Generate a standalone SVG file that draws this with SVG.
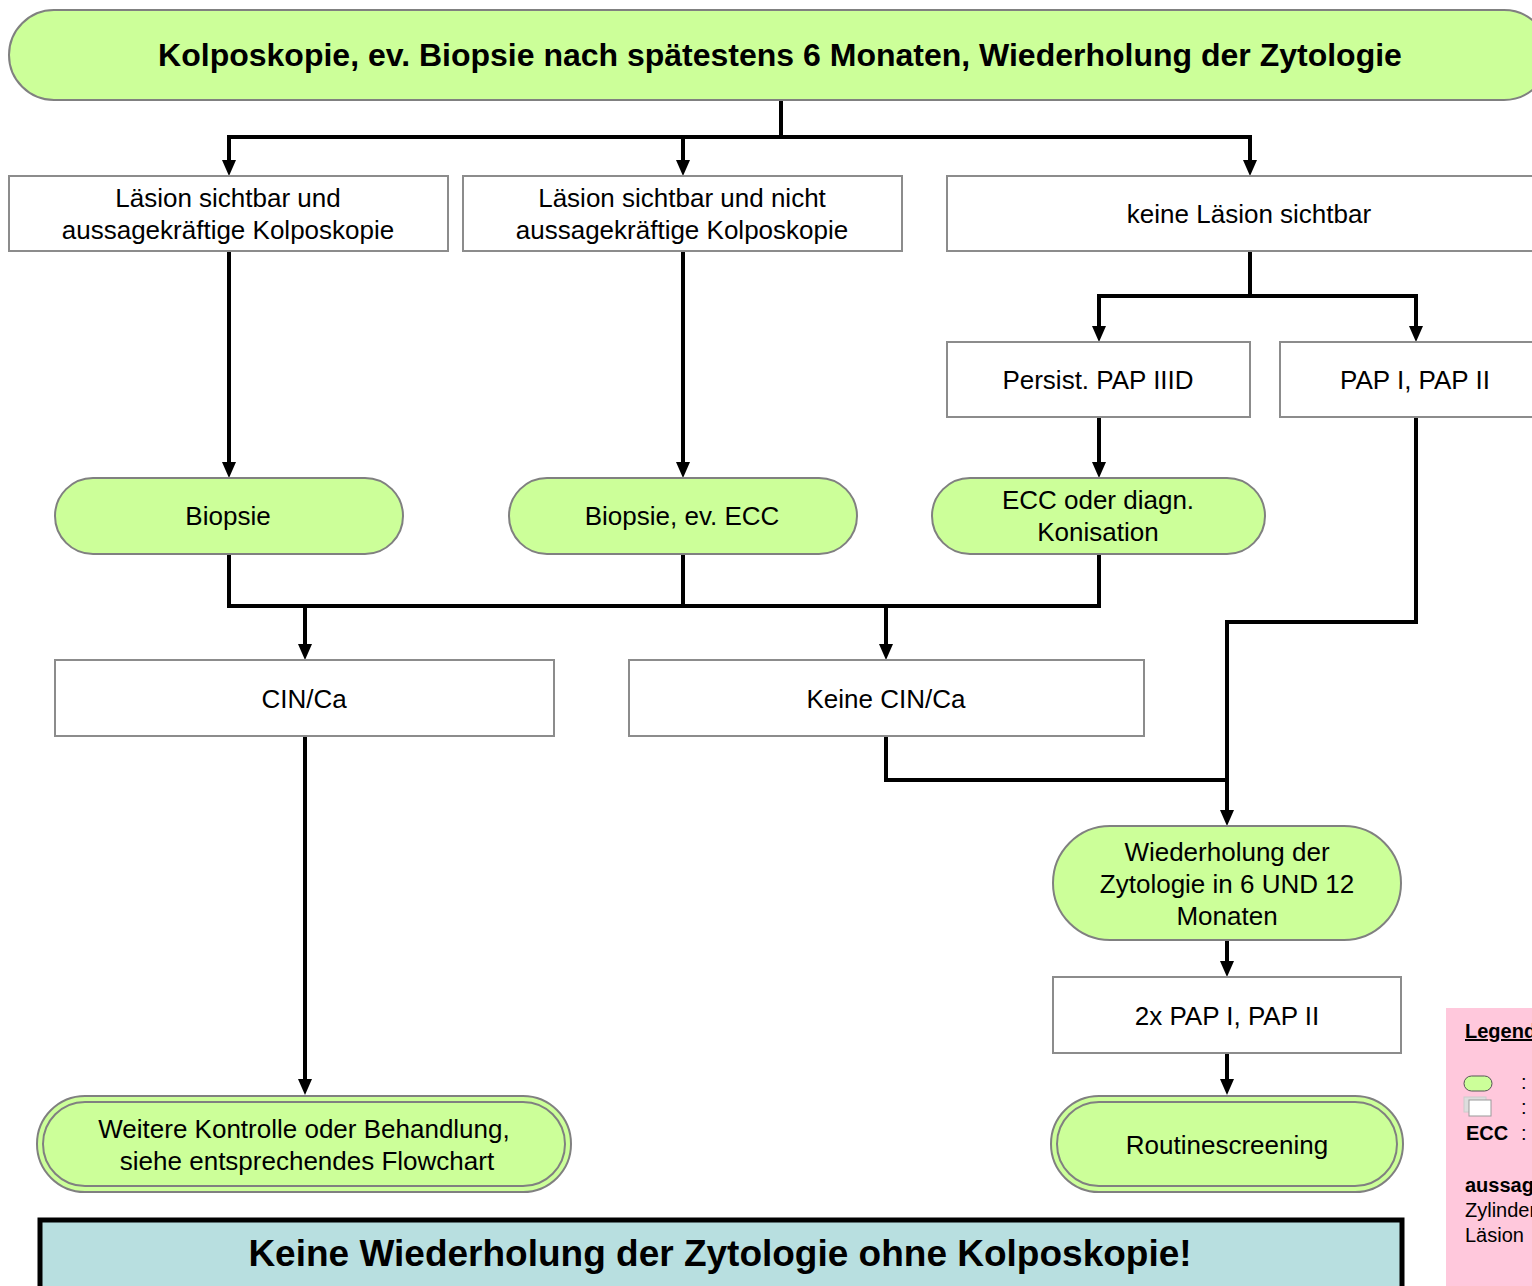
<svg xmlns="http://www.w3.org/2000/svg" width="1532" height="1286" viewBox="0 0 1532 1286">
<defs>
<style>
.t{font-family:"Liberation Sans",Arial,sans-serif;font-size:26px;fill:#000;text-anchor:middle}
.b{font-weight:bold}
.box{fill:#fff;stroke:#8c8c8c;stroke-width:2}
.pill{fill:#ccff99;stroke:#808080;stroke-width:2}
.con{fill:none;stroke:#000;stroke-width:4}
.lg{font-family:"Liberation Sans",Arial,sans-serif;font-size:20px;fill:#000}
</style>
<marker id="arr" viewBox="0 0 16 14" refX="0" refY="7" markerWidth="16" markerHeight="14" markerUnits="userSpaceOnUse" orient="auto">
<path d="M0,0 L16,7 L0,14 Z" fill="#000"/>
</marker>
</defs>
<rect width="1532" height="1286" fill="#fff"/>

<g id="connectors">
<path class="con" d="M781,100 V137 M227,137 H1252"/>
<path class="con" d="M229,137 V160" marker-end="url(#arr)"/>
<path class="con" d="M683,137 V160" marker-end="url(#arr)"/>
<path class="con" d="M1250,137 V160" marker-end="url(#arr)"/>
<path class="con" d="M229,251 V462" marker-end="url(#arr)"/>
<path class="con" d="M683,251 V462" marker-end="url(#arr)"/>
<path class="con" d="M1250,251 V296 M1097,296 H1418"/>
<path class="con" d="M1099,296 V326" marker-end="url(#arr)"/>
<path class="con" d="M1416,296 V326" marker-end="url(#arr)"/>
<path class="con" d="M1099,417 V462" marker-end="url(#arr)"/>
<path class="con" d="M229,554 V606 H1099 V554 M683,554 V606"/>
<path class="con" d="M305,606 V644" marker-end="url(#arr)"/>
<path class="con" d="M886,606 V644" marker-end="url(#arr)"/>
<path class="con" d="M1416,417 V622 H1227 V810" marker-end="url(#arr)"/>
<path class="con" d="M886,736 V780 H1227"/>
<path class="con" d="M305,736 V1079" marker-end="url(#arr)"/>
<path class="con" d="M1227,940 V961" marker-end="url(#arr)"/>
<path class="con" d="M1227,1053 V1079" marker-end="url(#arr)"/>
</g>

<g id="n_top">
<rect class="pill" x="9" y="10" width="1540" height="90" rx="45"/>
<text class="t b" x="780" y="66" style="font-size:32px">Kolposkopie, ev. Biopsie nach spätestens 6 Monaten, Wiederholung der Zytologie</text>
</g>

<g id="n_a">
<rect class="box" x="9" y="176" width="439" height="75"/>
<text class="t" x="228" y="207">Läsion sichtbar und</text>
<text class="t" x="228" y="239">aussagekräftige Kolposkopie</text>
</g>
<g id="n_b">
<rect class="box" x="463" y="176" width="439" height="75"/>
<text class="t" x="682" y="207">Läsion sichtbar und nicht</text>
<text class="t" x="682" y="239">aussagekräftige Kolposkopie</text>
</g>
<g id="n_c">
<rect class="box" x="947" y="176" width="600" height="75"/>
<text class="t" x="1249" y="223">keine Läsion sichtbar</text>
</g>

<g id="n_persist">
<rect class="box" x="947" y="342" width="303" height="75"/>
<text class="t" x="1098" y="389">Persist. PAP IIID</text>
</g>
<g id="n_pap">
<rect class="box" x="1280" y="342" width="270" height="75"/>
<text class="t" x="1415" y="389">PAP I, PAP II</text>
</g>

<g id="n_biopsie">
<rect class="pill" x="55" y="478" width="348" height="76" rx="38"/>
<text class="t" x="228" y="525">Biopsie</text>
</g>
<g id="n_biopsie_ecc">
<rect class="pill" x="509" y="478" width="348" height="76" rx="38"/>
<text class="t" x="682" y="525">Biopsie, ev. ECC</text>
</g>
<g id="n_ecc">
<rect class="pill" x="932" y="478" width="333" height="76" rx="38"/>
<text class="t" x="1098" y="509">ECC oder diagn.</text>
<text class="t" x="1098" y="541">Konisation</text>
</g>

<g id="n_cin">
<rect class="box" x="55" y="660" width="499" height="76"/>
<text class="t" x="304" y="708">CIN/Ca</text>
</g>
<g id="n_keine_cin">
<rect class="box" x="629" y="660" width="515" height="76"/>
<text class="t" x="886" y="708">Keine CIN/Ca</text>
</g>

<g id="n_wdh">
<rect class="pill" x="1053" y="826" width="348" height="114" rx="57"/>
<text class="t" x="1227" y="861">Wiederholung der</text>
<text class="t" x="1227" y="893">Zytologie in 6 UND 12</text>
<text class="t" x="1227" y="925">Monaten</text>
</g>

<g id="n_2x">
<rect class="box" x="1053" y="977" width="348" height="76"/>
<text class="t" x="1227" y="1025">2x PAP I, PAP II</text>
</g>

<g id="n_weitere">
<rect class="pill" x="37" y="1096" width="534" height="96" rx="48"/>
<rect fill="none" stroke="#808080" stroke-width="2" x="43" y="1102" width="522" height="84" rx="42"/>
<text class="t" x="304" y="1138">Weitere Kontrolle oder Behandlung,</text>
<text class="t" x="307" y="1170">siehe entsprechendes Flowchart</text>
</g>

<g id="n_routine">
<rect class="pill" x="1051" y="1096" width="352" height="96" rx="48"/>
<rect fill="none" stroke="#808080" stroke-width="2" x="1057" y="1102" width="340" height="84" rx="42"/>
<text class="t" x="1227" y="1154">Routinescreening</text>
</g>

<g id="n_warn">
<rect x="40" y="1220" width="1362" height="80" fill="#b8dfe0" stroke="#000" stroke-width="5"/>
<text class="t b" x="720" y="1266" style="font-size:37px">Keine Wiederholung der Zytologie ohne Kolposkopie!</text>
</g>

<g id="legend">
<rect x="1446" y="1008" width="100" height="290" fill="#ffc8dc"/>
<text class="lg b" x="1465" y="1038" text-decoration="underline">Legende</text>
<rect x="1464" y="1076" width="28" height="15" rx="7.5" fill="#ccff99" stroke="#555" stroke-width="1"/>
<rect x="1464" y="1097" width="22" height="15" fill="#ddd" stroke="#ccc" stroke-width="1"/>
<rect x="1469" y="1100" width="22" height="16" fill="#fff" stroke="#999" stroke-width="1"/>
<text class="lg" x="1521" y="1089">:</text>
<text class="lg" x="1521" y="1114">:</text>
<text class="lg b" x="1466" y="1140">ECC</text>
<text class="lg" x="1521" y="1140">:</text>
<text class="lg b" x="1465" y="1192">aussagekräftig</text>
<text class="lg" x="1465" y="1217">Zylinderepithel</text>
<text class="lg" x="1465" y="1242">Läsion</text>
</g>
</svg>
